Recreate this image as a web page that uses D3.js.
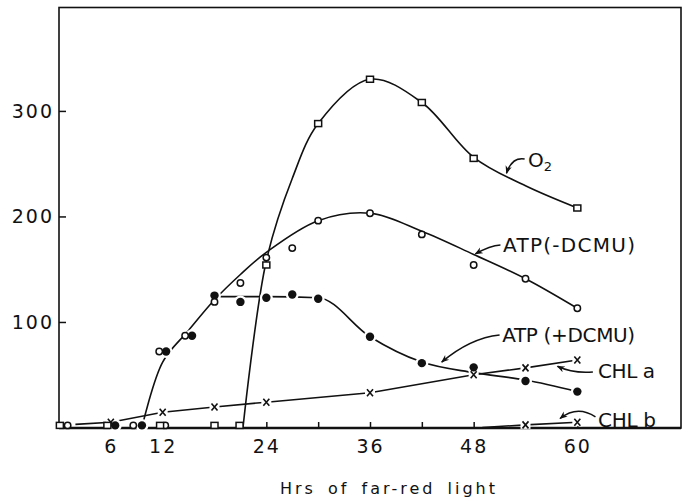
<!DOCTYPE html>
<html>
<head>
<meta charset="utf-8">
<script src="https://cdn.jsdelivr.net/npm/d3@7/dist/d3.min.js"></script>
<style>
  body { margin: 0; background: #fff; }
  text { font-family: "DejaVu Sans", sans-serif; fill: #111; }
</style>
</head>
<body>
<div id="chart"></div>
<script>
// ---- data (hours of far-red light vs. value) ----

// O2 evolution, open squares
var o2Hrs  = [0.1, 5.6, 11.7, 18, 20.9, 24, 30, 36, 42, 48, 60];
var o2Vals = [2, 2, 2, 2, 2, 154, 288, 330, 308, 255, 208];
// hand-drawn O2 curve
var o2CurveHrs  = [21.3, 24, 27, 30, 36, 42, 48, 54, 60];
var o2CurveVals = [0, 158, 236, 288, 330, 308, 256, 229, 208];

// ATP (-DCMU), open circles
var atpMinusHrs  = [1.0, 8.6, 12.3, 11.6, 14.6, 18, 21, 24, 27, 30, 36, 42, 48, 54, 60];
var atpMinusVals = [2, 2, 2, 72, 87, 119, 137, 161, 170, 196, 203, 183, 154, 141, 113];
var atpMinusCurveHrs  = [9.6, 12, 15, 18, 21, 24, 30, 36, 42, 48, 54, 60];
var atpMinusCurveVals = [0, 62, 92, 121, 145, 166, 196, 203, 186, 164, 141, 113];

// ATP (+DCMU), filled circles
var atpPlusHrs  = [6.5, 9.6, 12.4, 15.4, 18, 21, 24, 27, 30, 36, 42, 48, 54, 60];
var atpPlusVals = [2, 2, 72, 87, 125, 119, 123, 126, 122, 86, 61, 57, 44, 34];
var atpPlusCurveHrs  = [18.5, 24, 30, 36, 42, 48, 54, 60];
var atpPlusCurveVals = [124, 124, 123, 86, 62, 52, 45, 34];

// chlorophyll a and b, crosses (first entry = start of the line, no mark)
var chlAHrs  = [1.9, 6, 12, 18, 24, 36, 48, 54, 60];
var chlAVals = [3, 5, 14.5, 19.5, 24, 33, 50, 56.5, 64];
var chlBHrs  = [49, 54, 60];
var chlBVals = [0, 2.5, 5];

// axes
var xTickValues = [6, 12, 18, 24, 30, 36, 42, 48, 54, 60];
var xTickLabels = [6, 12, 24, 36, 48, 60];
var yTickValues = [100, 200, 300];

// ---- layout ----
var W = 686, H = 502;
var LEFT = 59, RIGHT = 681, TOP = 7.5, BOTTOM = 428;

var svg = d3.select('#chart').append('svg')
   .attr('width', W)
   .attr('height', H);

var x = d3.scaleLinear().domain([0, 72]).range([LEFT, RIGHT]);
var y = d3.scaleLinear().domain([0, 398]).range([427.5, TOP]);

function zip(hs, vs){
   return hs.map(function(h, i){ return [h, vs[i]]; });
}

// arrowhead
svg.append('defs').append('marker')
   .attr('id', 'head')
   .attr('viewBox', '0 0 10 10')
   .attr('refX', 9).attr('refY', 5)
   .attr('markerWidth', 8).attr('markerHeight', 8)
   .attr('markerUnits', 'userSpaceOnUse')
   .attr('orient', 'auto')
   .append('path')
      .attr('d', 'M0,1 L10,5 L0,9 L3,5 Z')
      .attr('fill', '#111');

// frame
svg.append('rect')
   .attr('x', LEFT).attr('y', TOP)
   .attr('width', RIGHT - LEFT).attr('height', BOTTOM - TOP)
   .attr('fill', 'none')
   .attr('stroke', '#111')
   .attr('stroke-width', 1.6);
svg.append('line')
   .attr('x1', LEFT).attr('x2', RIGHT)
   .attr('y1', BOTTOM).attr('y2', BOTTOM)
   .attr('stroke', '#111').attr('stroke-width', 2.4);

// x axis, ticks pointing inwards
var xAxis = d3.axisBottom(x)
   .tickValues(xTickValues)
   .tickSizeInner(-6)
   .tickSizeOuter(0)
   .tickPadding(12)
   .tickFormat(function(d){ return xTickLabels.indexOf(d) >= 0 ? d : ''; });

var gx = svg.append('g')
   .attr('transform', 'translate(0,' + BOTTOM + ')')
   .call(xAxis);
gx.select('.domain').remove();
gx.selectAll('line').attr('stroke', '#111').attr('stroke-width', 1.5);
gx.selectAll('text')
   .style('font-size', '19px')
   .style('letter-spacing', '2px')
   .attr('fill', '#111');

// y axis
var yAxis = d3.axisLeft(y)
   .tickValues(yTickValues)
   .tickSizeInner(-7)
   .tickSizeOuter(0)
   .tickPadding(5);

var gy = svg.append('g')
   .attr('transform', 'translate(' + LEFT + ',0)')
   .call(yAxis);
gy.select('.domain').remove();
gy.selectAll('line').attr('stroke', '#111').attr('stroke-width', 1.5);
gy.selectAll('text')
   .style('font-size', '19px')
   .style('letter-spacing', '2px')
   .attr('fill', '#111');

// axis title
svg.append('text')
   .attr('x', 280).attr('y', 494)
   .attr('textLength', 215)
   .attr('lengthAdjust', 'spacing')
   .style('font-size', '16px')
   .style('word-spacing', '4px')
   .text('Hrs of far-red light');

// ---- curves ----
var smooth = d3.line()
   .x(function(d){ return x(d[0]); })
   .y(function(d){ return y(d[1]); })
   .curve(d3.curveCatmullRom.alpha(0.5));

var monotone = d3.line()
   .x(function(d){ return x(d[0]); })
   .y(function(d){ return y(d[1]); })
   .curve(d3.curveMonotoneX);

var straight = d3.line()
   .x(function(d){ return x(d[0]); })
   .y(function(d){ return y(d[1]); });

var lines = svg.append('g')
   .attr('fill', 'none')
   .attr('stroke', '#111')
   .attr('stroke-width', 1.6);

lines.append('path').attr('d', smooth(zip(o2CurveHrs, o2CurveVals)));
lines.append('path').attr('d', smooth(zip(atpMinusCurveHrs, atpMinusCurveVals)));
lines.append('path').attr('d', monotone(zip(atpPlusCurveHrs, atpPlusCurveVals)));
lines.append('path').attr('d', straight(zip(chlAHrs, chlAVals)));
lines.append('path').attr('d', straight(zip(chlBHrs, chlBVals)));

// ---- markers ----
var marks = svg.append('g');

// filled circles: white halo first so the line breaks round the dot
var atpPlus = zip(atpPlusHrs, atpPlusVals);
marks.selectAll('circle.halo')
   .data(atpPlus)
   .enter()
   .append('circle')
      .attr('class', 'halo')
      .attr('cx', function(d){ return x(d[0]); })
      .attr('cy', function(d){ return y(d[1]); })
      .attr('r', 6.5)
      .attr('fill', '#fff');

// crosses with a small halo
var crosses = zip(chlAHrs, chlAVals).slice(1).concat(zip(chlBHrs, chlBVals).slice(1));
var cross = marks.selectAll('g.cross')
   .data(crosses)
   .enter()
   .append('g')
      .attr('class', 'cross')
      .attr('transform', function(d){
         return 'translate(' + x(d[0]) + ',' + y(d[1]) + ')';
      });
cross.append('rect')
   .attr('x', -5).attr('y', -4).attr('width', 10).attr('height', 8)
   .attr('fill', '#fff');
cross.append('path')
   .attr('d', 'M-3,-3.5 L3,3.5 M3,-3.5 L-3,3.5')
   .attr('stroke', '#111')
   .attr('stroke-width', 1.6);

marks.selectAll('circle.filled')
   .data(atpPlus)
   .enter()
   .append('circle')
      .attr('class', 'filled')
      .attr('cx', function(d){ return x(d[0]); })
      .attr('cy', function(d){ return y(d[1]); })
      .attr('r', 4.2)
      .attr('fill', '#111');

marks.selectAll('circle.open')
   .data(zip(atpMinusHrs, atpMinusVals))
   .enter()
   .append('circle')
      .attr('class', 'open')
      .attr('cx', function(d){ return x(d[0]); })
      .attr('cy', function(d){ return y(d[1]); })
      .attr('r', 3.2)
      .attr('fill', '#fff')
      .attr('stroke', '#111')
      .attr('stroke-width', 1.5);

marks.selectAll('rect.square')
   .data(zip(o2Hrs, o2Vals))
   .enter()
   .append('rect')
      .attr('class', 'square')
      .attr('x', function(d){ return x(d[0]) - 3.5; })
      .attr('y', function(d){ return y(d[1]) - 3; })
      .attr('width', 7)
      .attr('height', 6)
      .attr('fill', '#fff')
      .attr('stroke', '#111')
      .attr('stroke-width', 1.5);

// ---- labels with curved arrows (positions in data units) ----
var labels = [
   { text: 'O', sub: '2', h: 54.3, v: 247, len: 11,
     from: [53.9, 254.5], ctrl: [52.4, 256.5], to: [51.8, 241] },
   { text: 'ATP(-DCMU)', h: 51.4, v: 166.4, len: 132,
     from: [51.1, 173], ctrl: [49.9, 172.5], to: [48.2, 164.5] },
   { text: 'ATP (+DCMU)', h: 51.3, v: 81, len: 133,
     from: [51.0, 87.7], ctrl: [47.6, 84.8], to: [44.3, 62] },
   { text: 'CHL a', h: 62.4, v: 47, len: 57,
     from: [61.8, 52.6], ctrl: [59.5, 51], to: [57.7, 58] },
   { text: 'CHL b', h: 62.4, v: 0.6, len: 58,
     from: [62.1, 10], ctrl: [60.0, 21.5], to: [58.0, 8.5] }
];

var ann = svg.append('g');

labels.forEach(function(l){
   var t = ann.append('text')
      .attr('x', x(l.h))
      .attr('y', y(l.v))
      .style('font-size', '20px');
   if(l.sub){
      t.append('tspan').text(l.text);
      t.append('tspan')
         .attr('dy', 4)
         .style('font-size', '13px')
         .text(l.sub);
   } else {
      t.attr('textLength', l.len)
         .attr('lengthAdjust', 'spacing')
         .text(l.text);
   }

   ann.append('path')
      .attr('d', 'M' + x(l.from[0]) + ',' + y(l.from[1]) +
         ' Q' + x(l.ctrl[0]) + ',' + y(l.ctrl[1]) +
         ' ' + x(l.to[0]) + ',' + y(l.to[1]))
      .attr('fill', 'none')
      .attr('stroke', '#111')
      .attr('stroke-width', 1.5)
      .attr('marker-end', 'url(#head)');
});
</script>
</body>
</html>
